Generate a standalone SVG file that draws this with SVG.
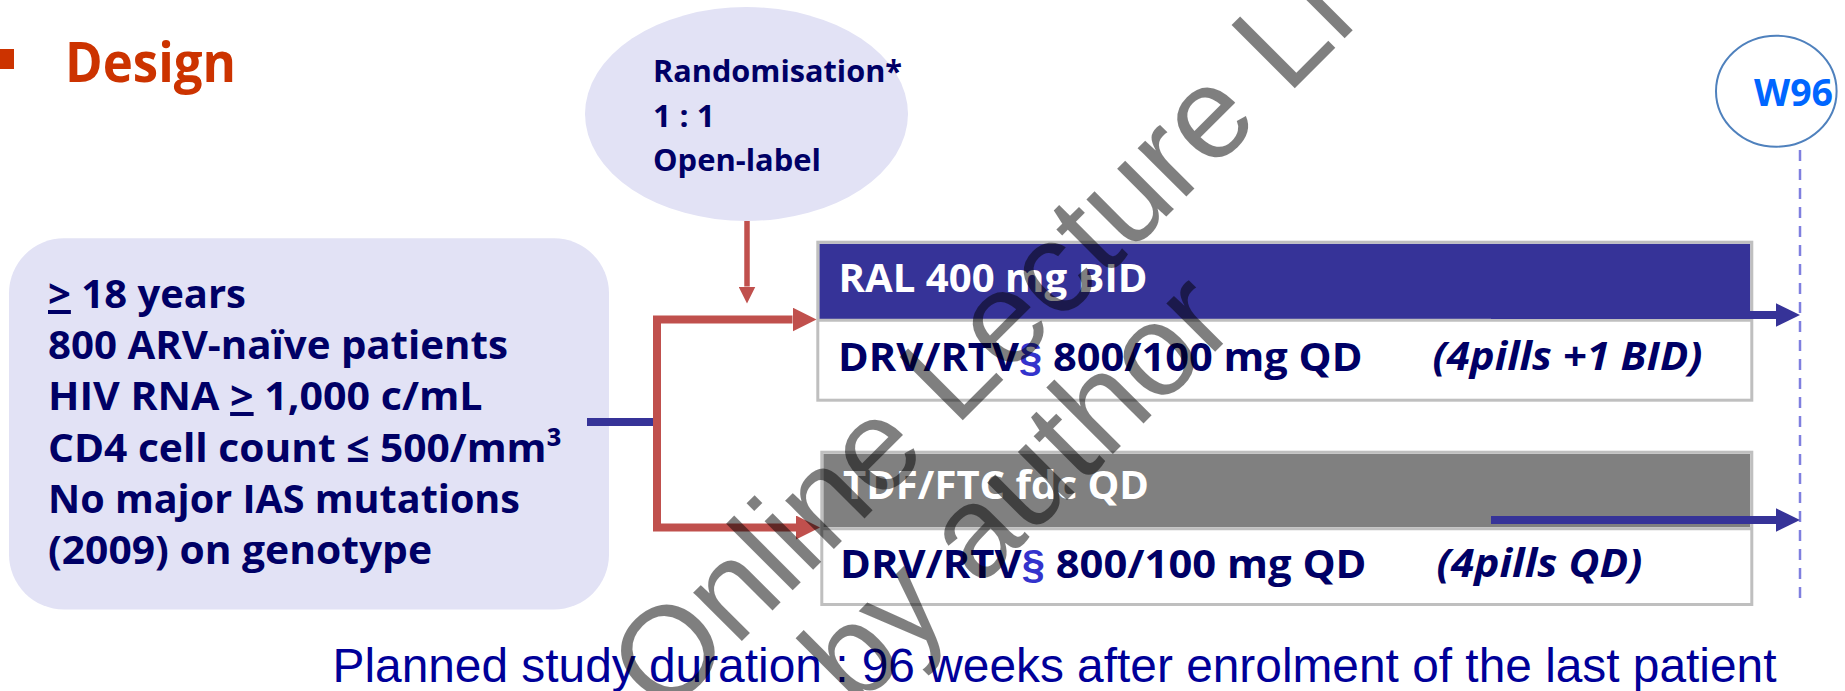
<svg xmlns="http://www.w3.org/2000/svg" width="1845" height="691" viewBox="0 0 1845 691">
  <defs>
    <style>
      .cal{font-family:"Open Sans","Liberation Sans",sans-serif;font-weight:bold}
      .navy{fill:#000066}
      .white{fill:#ffffff}
      .sect{fill:#3333cc;font-family:"Liberation Sans",Arial,sans-serif;font-weight:bold}
      .lav{fill:#e2e2f5}
      .frame{fill:none;stroke:#bfbfbf;stroke-width:3}
      .red{fill:none;stroke:#c0504d;stroke-linejoin:miter;stroke-linecap:butt}
      .blue{fill:none;stroke:#363398;stroke-width:8}
      .ul{text-decoration:underline}
      .wm{font-family:"Liberation Sans",Arial,sans-serif;font-size:130px;fill:#000000;fill-opacity:0.5}
    </style>
    <marker id="head-red-small" markerUnits="userSpaceOnUse" viewBox="0 0 17 17" markerWidth="17" markerHeight="17" refX="0" refY="8.5" orient="auto">
      <path d="M0,0L17,8.5L0,17Z" fill="#c0504d"/>
    </marker>
    <marker id="head-red" markerUnits="userSpaceOnUse" viewBox="0 0 24 24" markerWidth="24" markerHeight="24" refX="0" refY="12" orient="auto">
      <path d="M0,0L24,12L0,24Z" fill="#c0504d"/>
    </marker>
    <marker id="head-blue" markerUnits="userSpaceOnUse" viewBox="0 0 24 24" markerWidth="24" markerHeight="24" refX="0" refY="12" orient="auto">
      <path d="M0,0.3L24,12L0,23.7Z" fill="#363398"/>
    </marker>
  </defs>

  <rect width="1845" height="691" fill="#ffffff"/>

  <!-- slide heading -->
  <g id="heading">
    <rect x="-6" y="49" width="20" height="20" fill="#cc3300"/>
    <text class="cal" x="65" y="82" font-size="56" fill="#cc3300" textLength="171" lengthAdjust="spacingAndGlyphs">Design</text>
  </g>

  <!-- randomisation bubble -->
  <g id="randomisation">
    <ellipse class="lav" cx="746.5" cy="114" rx="161.5" ry="107"/>
    <text class="cal navy" font-size="31">
      <tspan x="653" y="81.7" textLength="249" lengthAdjust="spacingAndGlyphs">Randomisation*</tspan>
      <tspan x="653" y="127.3" textLength="62" lengthAdjust="spacingAndGlyphs">1 : 1</tspan>
      <tspan x="653" y="170.7" textLength="168" lengthAdjust="spacingAndGlyphs">Open-label</tspan>
    </text>
  </g>

  <!-- week 96 milestone -->
  <g id="w96">
    <ellipse cx="1776.3" cy="91.2" rx="60.3" ry="55.5" fill="none" stroke="#4f81bd" stroke-width="2"/>
    <text class="cal" x="1754" y="106" font-size="38" fill="#0066ff" textLength="79" lengthAdjust="spacingAndGlyphs">W96</text>
  </g>

  <!-- inclusion criteria -->
  <g id="eligibility">
    <rect class="lav" x="9" y="238.3" width="600" height="371.2" rx="55" ry="55"/>
    <text class="cal navy" font-size="40">
      <tspan x="48" y="308" textLength="198" lengthAdjust="spacingAndGlyphs"><tspan class="ul">&gt;</tspan> 18 years</tspan>
      <tspan x="48" y="358.5" textLength="460" lengthAdjust="spacingAndGlyphs">800 ARV-naïve patients</tspan>
      <tspan x="48" y="410" textLength="434.5" lengthAdjust="spacingAndGlyphs">HIV RNA <tspan class="ul">&gt;</tspan> 1,000 c/mL</tspan>
      <tspan x="48" y="462" textLength="514" lengthAdjust="spacingAndGlyphs">CD4 cell count ≤ 500/mm³</tspan>
      <tspan x="48" y="513.3" textLength="472" lengthAdjust="spacingAndGlyphs">No major IAS mutations</tspan>
      <tspan x="48" y="564" textLength="384" lengthAdjust="spacingAndGlyphs">(2009) on genotype</tspan>
    </text>
  </g>

  <!-- arm 1 -->
  <g id="arm-ral">
    <rect x="817.8" y="242.2" width="934" height="158" fill="#ffffff"/>
    <rect x="819.3" y="243.7" width="931" height="75.3" fill="#363398"/>
    <line class="frame" x1="817.8" y1="320.2" x2="1751.8" y2="320.2"/>
    <rect class="frame" x="817.8" y="242.2" width="934" height="158"/>
    <text class="cal white" x="838.5" y="292" font-size="40" textLength="309" lengthAdjust="spacingAndGlyphs">RAL 400 mg BID</text>
    <text class="cal navy" x="838" y="371" font-size="40" textLength="524.5" lengthAdjust="spacingAndGlyphs">DRV/RTV<tspan class="sect">§</tspan> 800/100 mg QD</text>
    <text class="cal navy" x="1432.5" y="370" font-size="40" font-style="italic" textLength="270" lengthAdjust="spacingAndGlyphs">(4pills +1 BID)</text>
  </g>

  <!-- arm 2 -->
  <g id="arm-tdf">
    <rect x="821.8" y="452.2" width="930" height="152.3" fill="#ffffff"/>
    <rect x="823.3" y="453.7" width="927" height="73.6" fill="#808080"/>
    <line class="frame" x1="821.8" y1="528.7" x2="1751.8" y2="528.7"/>
    <rect class="frame" x="821.8" y="452.2" width="930" height="152.3"/>
    <text class="cal white" x="843" y="499" font-size="40" textLength="306" lengthAdjust="spacingAndGlyphs">TDF/FTC fdc QD</text>
    <text class="cal navy" x="840" y="578" font-size="40" textLength="526.5" lengthAdjust="spacingAndGlyphs">DRV/RTV<tspan class="sect">§</tspan> 800/100 mg QD</text>
    <text class="cal navy" x="1436.5" y="577" font-size="40" font-style="italic" textLength="206" lengthAdjust="spacingAndGlyphs">(4pills QD)</text>
  </g>

  <!-- connectors -->
  <g id="connectors">
    <line x1="1800" y1="150" x2="1800" y2="600" stroke="#7f7fdf" stroke-width="2.5" stroke-dasharray="11 8"/>
    <line class="blue" x1="587" y1="422" x2="657" y2="422"/>
    <line class="red" x1="747" y1="221" x2="747" y2="286.5" stroke-width="5.5" marker-end="url(#head-red-small)"/>
    <path class="red" d="M657,423V319.5H792.5" stroke-width="8" marker-end="url(#head-red)"/>
    <path class="red" d="M657,423V527.5H796" stroke-width="8" marker-end="url(#head-red)"/>
    <line class="blue" x1="1491" y1="315" x2="1776" y2="315" marker-end="url(#head-blue)"/>
    <line class="blue" x1="1491" y1="520" x2="1776" y2="520" marker-end="url(#head-blue)"/>
  </g>

  <!-- footnote -->
  <g id="footnote">
    <text x="332.5" y="681.7" font-family="'Liberation Sans',Arial,sans-serif" font-size="48" fill="#000099" textLength="1444" lengthAdjust="spacingAndGlyphs">Planned study duration : 96 weeks after enrolment of the last patient</text>
  </g>

  <!-- overlay lettering -->
  <g id="watermark">
    <text class="wm" transform="translate(570.7,812.3) rotate(-45)">© Online Lecture Li</text>
    <text class="wm" transform="translate(856,711) rotate(-45)">by author</text>
  </g>
</svg>
